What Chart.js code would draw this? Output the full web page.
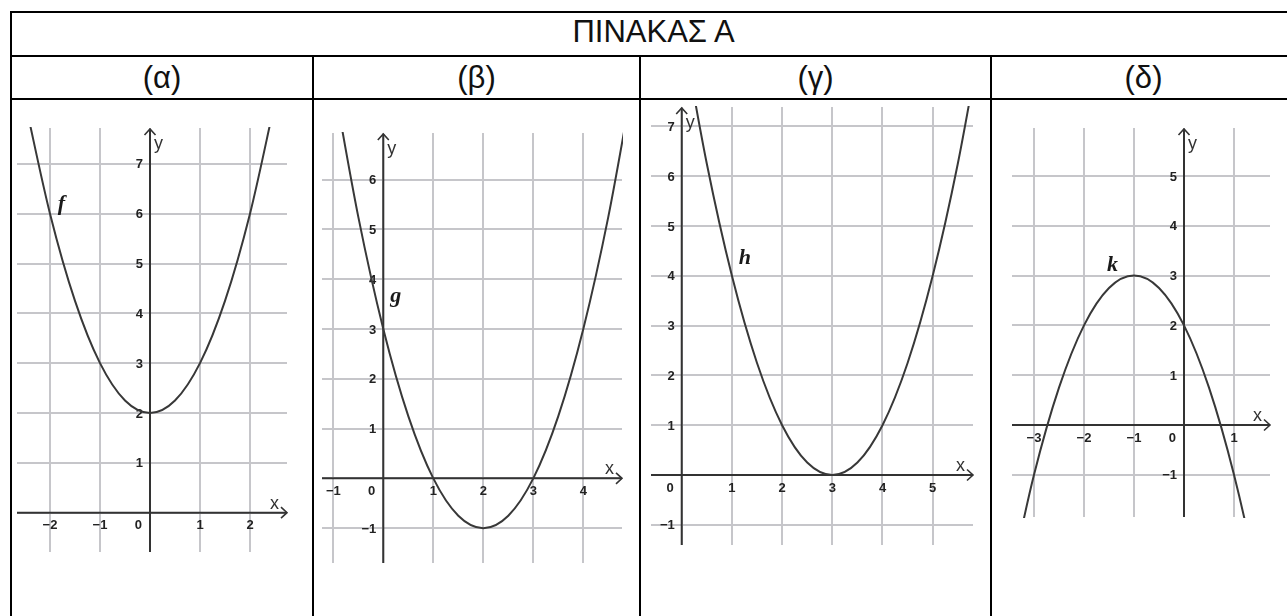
<!DOCTYPE html>
<html>
<head>
<meta charset="utf-8">
<script src="https://cdn.jsdelivr.net/npm/chart.js@4.4.1/dist/chart.umd.min.js"></script>
<style>
  body { margin: 0; background: #fff; width: 1287px; height: 616px; overflow: hidden; position: relative;
         font-family: "Liberation Sans", Arial, sans-serif; }
  .ln { position: absolute; background: #000; }
  .cell { position: absolute; text-align: center; font-size: 31px; color: #111; white-space: nowrap; }
  canvas { position: absolute; }
</style>
</head>
<body>
<!-- table borders -->
<div class="ln" style="left:10px;top:11px;width:1300px;height:2px"></div>
<div class="ln" style="left:10px;top:55px;width:1300px;height:2px"></div>
<div class="ln" style="left:10px;top:98px;width:1300px;height:2px"></div>
<div class="ln" style="left:10px;top:11px;width:2px;height:620px"></div>
<div class="ln" style="left:312px;top:56px;width:2px;height:570px"></div>
<div class="ln" style="left:639px;top:56px;width:2px;height:570px"></div>
<div class="ln" style="left:990px;top:56px;width:2px;height:570px"></div>

<div class="cell" style="left:12px;width:1283px;top:11px;height:42px;line-height:42px">ΠΙΝΑΚΑΣ Α</div>
<div class="cell" style="left:12px;width:300px;top:57px;height:41px;line-height:41px">(α)</div>
<div class="cell" style="left:314px;width:325px;top:57px;height:41px;line-height:41px">(β)</div>
<div class="cell" style="left:641px;width:349px;top:57px;height:41px;line-height:41px">(γ)</div>
<div class="cell" style="left:992px;width:303px;top:57px;height:41px;line-height:41px">(δ)</div>

<canvas id="pa"></canvas>
<canvas id="pb"></canvas>
<canvas id="pc"></canvas>
<canvas id="pd"></canvas>

<script>
// curve points
const fX = [-2.5, -2, -1.5, -1, -0.5, 0, 0.5, 1, 1.5, 2, 2.5];
const fY = [8.25, 6, 4.25, 3, 2.25, 2, 2.25, 3, 4.25, 6, 8.25];
const gX = [-1, -0.5, 0, 0.5, 1, 1.5, 2, 2.5, 3, 3.5, 4, 4.5, 5];
const gY = [8, 5.25, 3, 1.25, 0, -0.75, -1, -0.75, 0, 1.25, 3, 5.25, 8];
const hX = [0, 0.5, 1, 1.5, 2, 2.5, 3, 3.5, 4, 4.5, 5, 5.5, 6];
const hY = [9, 6.25, 4, 2.25, 1, 0.25, 0, 0.25, 1, 2.25, 4, 6.25, 9];
const kX = [-3.5, -3, -2.5, -2, -1.5, -1, -0.5, 0, 0.5, 1, 1.5, 2];
const kY = [-3.25, -1, 0.75, 2, 2.75, 3, 2.75, 2, 0.75, -1, -3.25, -6];

// tick labels (0 is written once at the origin)
const fXTicks = [-2, -1, 1, 2];
const fYTicks = [1, 2, 3, 4, 5, 6, 7];
const gXTicks = [-1, 1, 2, 3, 4];
const gYTicks = [-1, 1, 2, 3, 4, 5, 6];
const hXTicks = [1, 2, 3, 4, 5];
const hYTicks = [-1, 1, 2, 3, 4, 5, 6, 7];
const kXTicks = [-3, -2, -1, 1];
const kYTicks = [-1, 1, 2, 3, 4, 5];

const PAD = 12;

const panels = [
  { id: 'pa', name: 'f', xs: fX, ys: fY, xTicks: fXTicks, yTicks: fYTicks,
    xRange: [-2.66, 2.74], yRange: [-0.79, 7.72], box: [17, 128, 287, 552], namePos: [-1.77, 6.19] },
  { id: 'pb', name: 'g', xs: gX, ys: gY, xTicks: gXTicks, yTicks: gYTicks,
    xRange: [-1.226, 4.774], yRange: [-1.70, 6.934], box: [322, 133, 622, 563], namePos: [0.25, 3.65] },
  { id: 'pc', name: 'h', xs: hX, ys: hY, xTicks: hXTicks, yTicks: hYTicks,
    xRange: [-0.612, 5.803], yRange: [-1.406, 7.39], box: [651, 107, 973, 545], namePos: [1.26, 4.35] },
  { id: 'pd', name: 'k', xs: kX, ys: kY, xTicks: kXTicks, yTicks: kYTicks,
    xRange: [-3.44, 1.72], yRange: [-1.847, 5.964], box: [1012, 128, 1270, 517], namePos: [-1.43, 3.2] }
];

const fmt = v => v < 0 ? '\u2212' + Math.abs(v) : String(v);

function makeAxes(p) {
  return {
    id: 'geoAxes',
    beforeDatasetsDraw(chart) {
      const { ctx, chartArea: a, scales: { x, y } } = chart;
      const ox = x.getPixelForValue(0), oy = y.getPixelForValue(0);
      ctx.save();
      ctx.strokeStyle = '#333';
      ctx.lineWidth = 2;
      ctx.beginPath();
      ctx.moveTo(a.left, oy); ctx.lineTo(a.right, oy);
      ctx.moveTo(ox, a.bottom); ctx.lineTo(ox, a.top + 1);
      ctx.stroke();
      // open arrow heads
      ctx.lineWidth = 1.6;
      ctx.beginPath();
      ctx.moveTo(a.right - 6, oy - 5.5); ctx.lineTo(a.right, oy); ctx.lineTo(a.right - 6, oy + 5.5);
      ctx.moveTo(ox - 5.5, a.top + 7); ctx.lineTo(ox, a.top + 1); ctx.lineTo(ox + 5.5, a.top + 7);
      ctx.stroke();

      ctx.fillStyle = '#222';
      ctx.font = 'bold 13px "Liberation Sans", Arial, sans-serif';
      ctx.textBaseline = 'middle';
      ctx.textAlign = 'center';
      p.xTicks.forEach(v => ctx.fillText(fmt(v), x.getPixelForValue(v), oy + 13));
      ctx.textAlign = 'right';
      p.yTicks.forEach(v => ctx.fillText(fmt(v), ox - 7, y.getPixelForValue(v) + 1));
      ctx.fillText('0', ox - 8, oy + 13);

      ctx.fillStyle = '#333';
      ctx.font = '18px "Liberation Sans", Arial, sans-serif';
      ctx.textBaseline = 'alphabetic';
      ctx.fillText('x', a.right - 8, oy - 4);
      ctx.textAlign = 'left';
      ctx.fillText('y', ox + 4, a.top + 21);
      ctx.restore();
    },
    afterDatasetsDraw(chart) {
      const { ctx, scales: { x, y } } = chart;
      ctx.save();
      ctx.fillStyle = '#1a1a1a';
      ctx.font = 'italic bold 22px "Liberation Serif", "Times New Roman", serif';
      ctx.textAlign = 'center';
      ctx.textBaseline = 'middle';
      ctx.fillText(p.name, x.getPixelForValue(p.namePos[0]), y.getPixelForValue(p.namePos[1]));
      ctx.restore();
    }
  };
}

function gridOf(ticks) {
  return [0].concat(ticks).sort((a, b) => a - b);
}

panels.forEach(p => {
  const canvas = document.getElementById(p.id);
  const [l, t, r, b] = p.box;
  canvas.width = r - l + 2 * PAD;
  canvas.height = b - t + 2 * PAD;
  canvas.style.left = (l - PAD) + 'px';
  canvas.style.top = (t - PAD) + 'px';

  const gridStyle = { color: '#c6c6ca', lineWidth: 2, drawTicks: false };

  new Chart(canvas, {
    type: 'scatter',
    data: {
      datasets: [{
        data: p.xs.map((x, i) => ({ x: x, y: p.ys[i] })),
        showLine: true,
        borderColor: '#383838',
        borderWidth: 2,
        pointRadius: 0,
        cubicInterpolationMode: 'monotone',
        clip: 1
      }]
    },
    options: {
      responsive: false,
      animation: false,
      events: [],
      layout: { padding: PAD, autoPadding: false },
      plugins: {
        legend: { display: false },
        tooltip: { enabled: false }
      },
      scales: {
        x: {
          type: 'linear',
          min: p.xRange[0],
          max: p.xRange[1],
          ticks: { display: false },
          afterBuildTicks: s => { s.ticks = gridOf(p.xTicks).map(v => ({ value: v })); },
          grid: gridStyle,
          border: { display: false }
        },
        y: {
          type: 'linear',
          min: p.yRange[0],
          max: p.yRange[1],
          ticks: { display: false },
          afterBuildTicks: s => { s.ticks = gridOf(p.yTicks).map(v => ({ value: v })); },
          grid: gridStyle,
          border: { display: false }
        }
      }
    },
    plugins: [makeAxes(p)]
  });
});
</script>
</body>
</html>
